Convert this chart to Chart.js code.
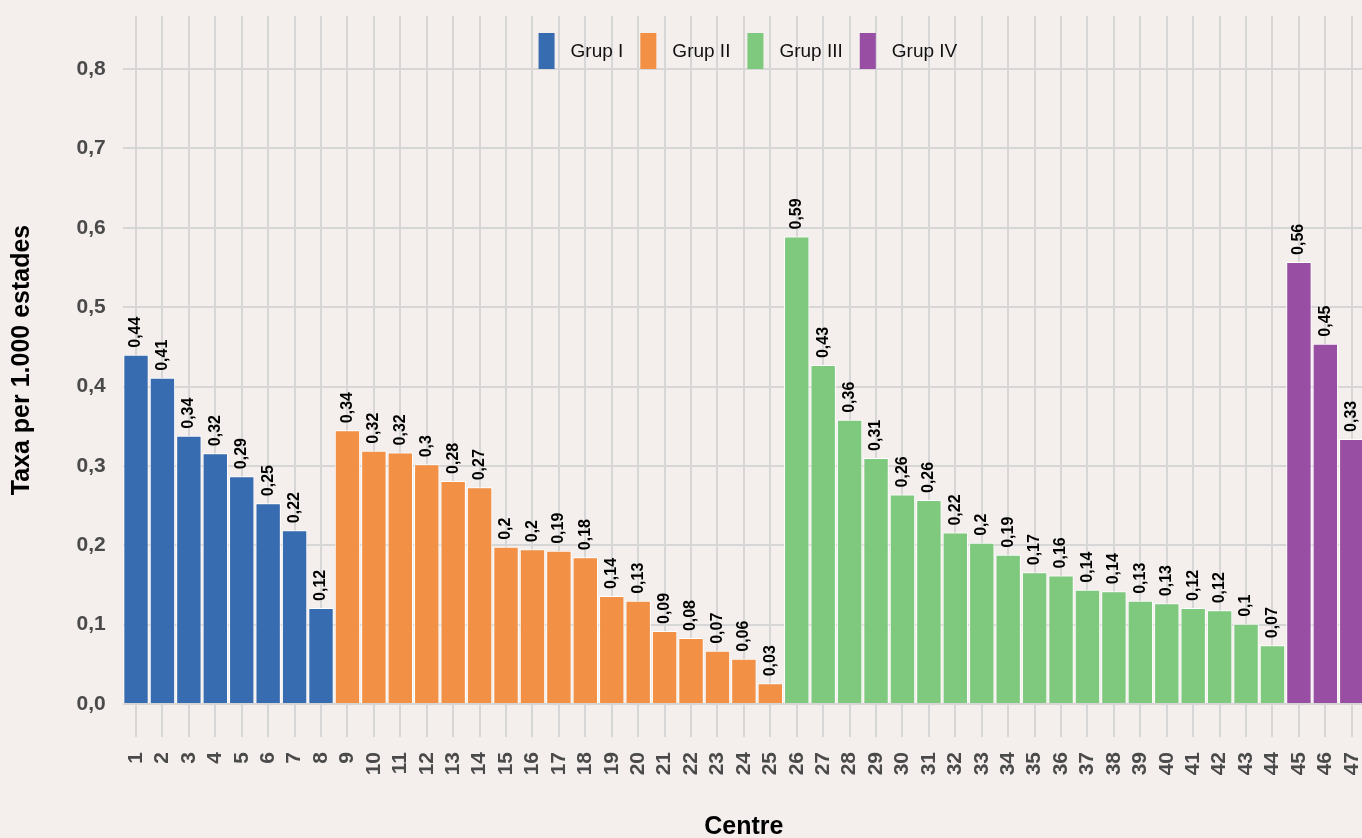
<!DOCTYPE html>
<html>
<head>
<meta charset="utf-8">
<script src="https://cdn.jsdelivr.net/npm/chart.js@4.4.1/dist/chart.umd.min.js"></script>
<style>
  html, body { margin: 0; padding: 0; overflow: hidden; background: #f4efed; }
  #wrap { position: absolute; left: 0; top: 0; }
</style>
</head>
<body>
<div id="wrap"><canvas id="taxaChart" width="1376" height="844"></canvas></div>
<script>
// Centres (x axis categories)
const centres = ['1','2','3','4','5','6','7','8','9','10','11','12','13','14','15','16',
    '17','18','19','20','21','22','23','24','25','26','27','28','29','30','31','32',
    '33','34','35','36','37','38','39','40','41','42','43','44','45','46','47'];

// Taxa per 1.000 estades
const taxa = [0.440, 0.411, 0.338, 0.316, 0.287, 0.253, 0.219, 0.121,
    0.345, 0.319, 0.317, 0.302, 0.281, 0.273, 0.198, 0.195, 0.193, 0.185, 0.136,
    0.130, 0.092, 0.083, 0.067, 0.057, 0.026,
    0.589, 0.427, 0.358, 0.310, 0.264, 0.257, 0.216, 0.203, 0.188, 0.166, 0.162,
    0.144, 0.142, 0.130, 0.127, 0.121, 0.118, 0.101, 0.074,
    0.557, 0.454, 0.334];

// Groups: name, colour and how many centres belong to each
const grups = ['Grup I', 'Grup II', 'Grup III', 'Grup IV'];
const grupColors = ['#386cb0', '#f29045', '#7fc97f', '#984ea3'];
const grupSizes = [8, 17, 19, 3];

// Y axis ticks
const yTicks = [0, 0.1, 0.2, 0.3, 0.4, 0.5, 0.6, 0.7, 0.8];

// Build one colour per bar from the group sizes
const barColors = [];
grupSizes.forEach(function(n, g) {
    for (let i = 0; i < n; i++) barColors.push(grupColors[g]);
});

const BG = '#f4efed';
const GRID = '#d6d6d6';
const AXIS_TXT = '#4a4a4a';
const FONT = '"Liberation Sans", Arial, sans-serif';

function comma(v, digits) {
    return String(Number(v.toFixed(digits))).replace('.', ',');
}

// Vertical value labels above each bar
const barLabels = {
    id: 'barLabels',
    afterDatasetsDraw(chart) {
        const ctx = chart.ctx;
        const meta = chart.getDatasetMeta(0);
        ctx.save();
        ctx.fillStyle = '#000';
        ctx.font = 'bold 16px ' + FONT;
        ctx.textAlign = 'left';
        ctx.textBaseline = 'middle';
        meta.data.forEach(function(bar, i) {
            ctx.save();
            ctx.translate(bar.x, bar.y - 7);
            ctx.rotate(-Math.PI / 2);
            ctx.fillText(comma(taxa[i], 2), 0, 0);
            ctx.restore();
        });
        ctx.restore();
    }
};

// Legend drawn inside the panel, at the top
const grupLegend = {
    id: 'grupLegend',
    afterDraw(chart) {
        const ctx = chart.ctx;
        const area = chart.chartArea;
        ctx.save();
        ctx.font = '19px ' + FONT;
        const keyW = 16, keyH = 36, textGap = 16, itemGap = 17;
        const widths = grups.map(g => ctx.measureText(g).width);
        let total = 0;
        widths.forEach(function(w, i) {
            total += keyW + textGap + w + (i < widths.length - 1 ? itemGap : 0);
        });
        let x = (area.left + area.right) / 2 - total / 2 + 4;
        const top = 33;
        ctx.textBaseline = 'middle';
        ctx.textAlign = 'left';
        grups.forEach(function(g, i) {
            ctx.fillStyle = grupColors[i];
            ctx.fillRect(x, top, keyW, keyH);
            ctx.fillStyle = '#111';
            ctx.fillText(g, x + keyW + textGap, top + keyH / 2 + 1);
            x += keyW + textGap + widths[i] + itemGap;
        });
        ctx.restore();
    }
};

const bgPlugin = {
    id: 'bgPlugin',
    beforeDraw(chart) {
        const ctx = chart.ctx;
        ctx.save();
        ctx.fillStyle = BG;
        ctx.fillRect(0, 0, chart.width, chart.height);
        ctx.restore();
    }
};

const ctx = document.getElementById('taxaChart').getContext('2d');
new Chart(ctx, {
    type: 'bar',
    data: {
        labels: centres,
        datasets: [{
            data: taxa,
            backgroundColor: barColors,
            borderColor: '#ffffff',
            borderWidth: 1,
            borderSkipped: 'bottom',
            barPercentage: 0.96,
            categoryPercentage: 1.0
        }]
    },
    options: {
        responsive: false,
        animation: false,
        layout: { padding: { left: 0, right: 11, top: 16, bottom: 2 } },
        plugins: {
            legend: { display: false },
            tooltip: { enabled: false }
        },
        scales: {
            x: {
                offset: true,
                border: { display: false },
                grid: {
                    offset: false,
                    color: GRID,
                    lineWidth: 2,
                    drawTicks: true,
                    tickLength: 33
                },
                ticks: {
                    color: AXIS_TXT,
                    font: { family: FONT, size: 21, weight: 'bold' },
                    minRotation: 90,
                    maxRotation: 90,
                    padding: 15,
                    autoSkip: false
                },
                title: {
                    display: true,
                    text: 'Centre',
                    color: '#000',
                    font: { family: FONT, size: 25, weight: 'bold' },
                    padding: { top: 0, bottom: 0 }
                },
                afterFit: function(scale) {
                    scale.height = 138;
                    scale.paddingLeft = 0;
                    scale.paddingRight = 0;
                }
            },
            y: {
                min: 0,
                max: 0.8668,
                border: { display: false },
                grid: {
                    color: GRID,
                    lineWidth: 2,
                    drawTicks: false
                },
                ticks: {
                    stepSize: 0.1,
                    color: AXIS_TXT,
                    font: { family: FONT, size: 21, weight: 'bold' },
                    padding: 17,
                    callback: function(v) { return v.toFixed(1).replace('.', ','); }
                },
                afterBuildTicks: function(axis) {
                    axis.ticks = yTicks.map(v => ({ value: v }));
                },
                title: {
                    display: true,
                    text: 'Taxa per 1.000 estades',
                    color: '#000',
                    font: { family: FONT, size: 25, weight: 'bold' },
                    padding: { top: 7, bottom: 0 }
                },
                afterFit: function(scale) {
                    scale.width = 122.8;
                    scale.paddingTop = 0;
                    scale.paddingBottom = 0;
                }
            }
        }
    },
    plugins: [bgPlugin, barLabels, grupLegend]
});
</script>
</body>
</html>
